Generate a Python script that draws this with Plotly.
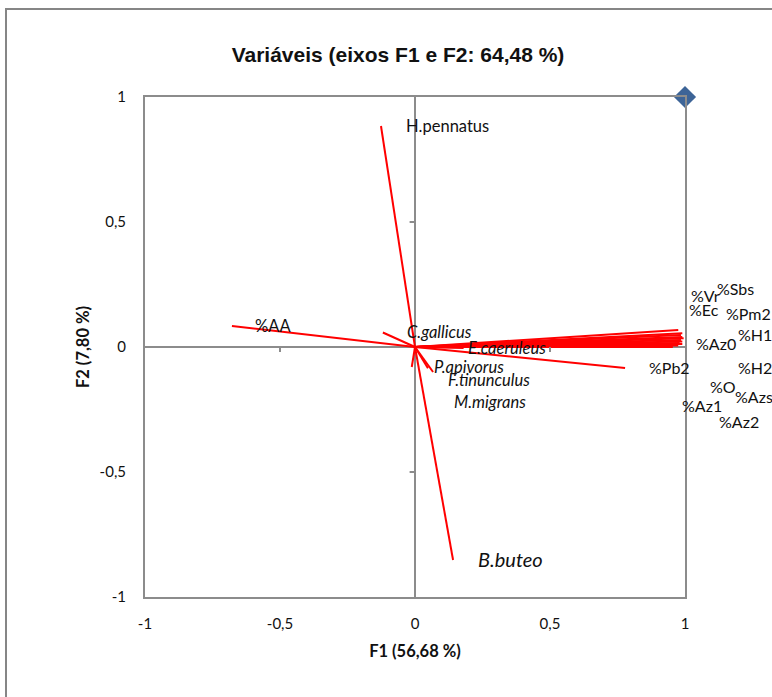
import plotly.graph_objects as go

# ---- data ----
variables = ["H.pennatus", "B.buteo", "%AA", "C.gallicus", "E.caeruleus", "P.apivorus",
             "F.tinunculus", "M.migrans", "%Pb2",
             "%Vr", "%Sbs", "%Ec", "%Pm2", "%H1", "%Az0", "%H2", "%O", "%Azs", "%Az1", "%Az2"]
f1 = [-0.126, 0.141, -0.678, -0.119, 0.18, 0.067, 0.048, -0.012, 0.778,
      0.975, 0.99, 0.985, 0.99, 0.995, 0.985, 0.99, 0.98, 0.99, 0.975, 0.955]
f2 = [0.884, -0.852, 0.084, 0.058, -0.004, -0.1, -0.085, -0.08, -0.084,
      0.068, 0.055, 0.048, 0.04, 0.035, 0.028, 0.022, 0.016, 0.012, 0.006, 0.0]
label_x = [-0.037, 0.228, -0.596, -0.033, 0.193, 0.067, 0.119, 0.141, 0.863,
           1.019, 1.115, 1.011, 1.148, 1.193, 1.037, 1.193, 1.089, 1.181, 0.985, 1.122]
label_y = [0.88, -0.852, 0.08, 0.056, -0.008, -0.084, -0.136, -0.224, -0.088,
           0.2, 0.228, 0.144, 0.128, 0.044, 0.008, -0.088, -0.164, -0.204, -0.24, -0.304]
label_italic = [False, True, False, True, True, True, True, True, False,
                False, False, False, False, False, False, False, False, False, False, False]
label_size = [16.5, 20, 16.5, 16.5, 16.5, 16.5, 16.5, 16.5, 16,
              16, 16, 16, 16, 16, 16, 16, 16, 16, 16, 16]
corner_x = [1]
corner_y = [1]
tick_vals = [-1, -0.5, 0, 0.5, 1]
tick_text = ["-1", "-0,5", "0", "0,5", "1"]
x_range = [-1, 1]
y_range = [-1, 1]

GRAY = "#8c8c8c"
FONT = "Lato, 'Open Sans', sans-serif"

lx, ly = [], []
for x, y in zip(f1, f2):
    lx += [0, x, None]
    ly += [0, y, None]

fig = go.Figure()
fig.add_trace(go.Scatter(x=lx, y=ly, mode="lines",
                         line=dict(color="#ff0000", width=2), hoverinfo="skip",
                         showlegend=False))
fig.add_trace(go.Scatter(x=corner_x, y=corner_y, mode="markers",
                         marker=dict(symbol="diamond", size=17, color="#3d6497"),
                         cliponaxis=False, showlegend=False))


def to_paper(v, r):
    return (v - r[0]) / (r[1] - r[0])


for name, x, y, it, sz in zip(variables, label_x, label_y, label_italic, label_size):
    txt = f"<i>{name}</i>" if it else name
    fig.add_annotation(x=to_paper(x, x_range), y=to_paper(y, y_range),
                       xref="paper", yref="paper", text=txt, showarrow=False,
                       xanchor="left", yanchor="middle", xshift=0, yshift=1.5,
                       borderpad=0,
                       font=dict(family=FONT, size=sz, color="#111111"))

# small tick marks on the crossing axes
for v in (-0.5, 0.5):
    fig.add_shape(type="line", xref="x", yref="y", x0=v, x1=v, y0=0, y1=-0.02,
                  line=dict(color=GRAY, width=2))
    fig.add_shape(type="line", xref="x", yref="y", x0=0, x1=-0.02, y0=v, y1=v,
                  line=dict(color=GRAY, width=2))

# outer chart frame
fig.add_shape(type="rect", xref="paper", yref="paper",
              x0=(6 - 145) / 540, x1=(790 - 145) / 540,
              y0=(597 - 710) / 500, y1=(597 - 9) / 500,
              line=dict(color="#868686", width=2), layer="below")

axis_common = dict(tickvals=tick_vals, ticktext=tick_text,
                   showgrid=False, zeroline=True, zerolinecolor=GRAY, zerolinewidth=2,
                   showline=True, linecolor=GRAY, linewidth=2, mirror=True,
                   ticks="", tickfont=dict(family=FONT, size=15, color="#111111"),
                   fixedrange=True)

fig.update_layout(
    width=772, height=697,
    margin=dict(l=145, r=87, t=97, b=100),
    paper_bgcolor="white", plot_bgcolor="white",
    title=dict(text="<b>Variáveis (eixos F1 e F2: 64,48 %)</b>",
               x=398 / 772, xanchor="center", y=1 - 55 / 697, yanchor="middle",
               font=dict(family="Liberation Sans, Arial, sans-serif", size=21, color="#111111")),
    xaxis=dict(**axis_common, range=x_range, ticklabelstandoff=12,
               title=dict(text="<b>F1 (56,68 %)</b>", standoff=14,
                          font=dict(family=FONT, size=16.5, color="#111111"))),
    yaxis=dict(**axis_common, range=y_range, ticklabelstandoff=14,
               title=dict(text="<b>F2 (7,80 %)</b>", standoff=6,
                          font=dict(family=FONT, size=16.5, color="#111111"))),
    showlegend=False,
)

fig.write_html("out.html")
